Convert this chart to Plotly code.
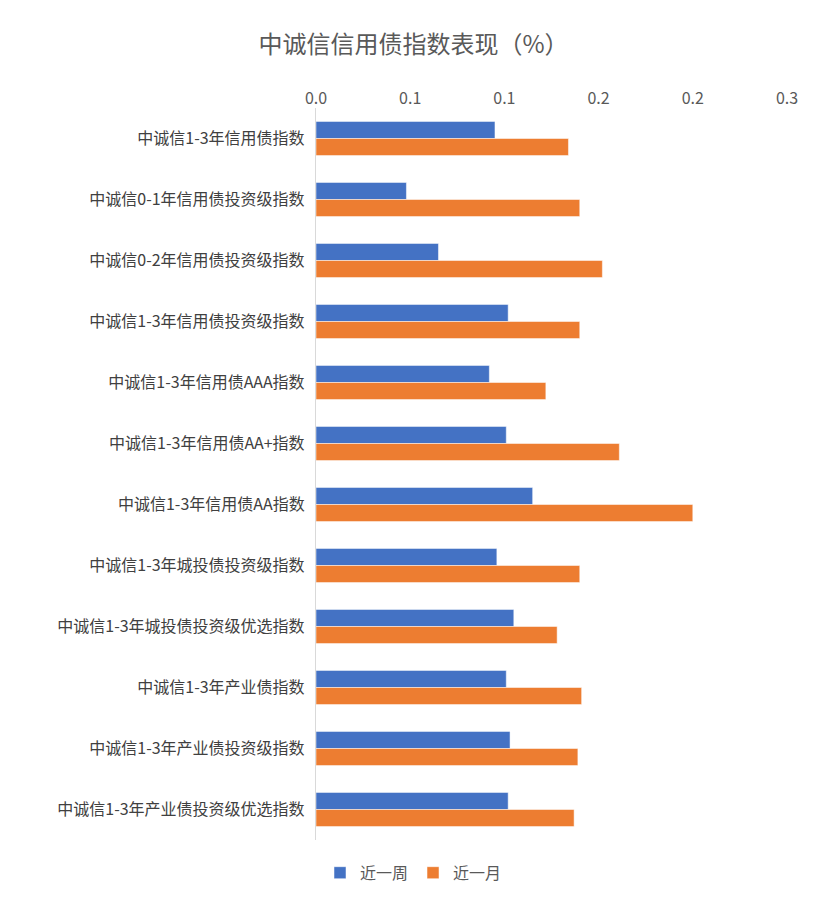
import plotly.graph_objects as go

# 数据
categories = [
    "中诚信1-3年信用债指数", "中诚信0-1年信用债投资级指数", "中诚信0-2年信用债投资级指数",
    "中诚信1-3年信用债投资级指数", "中诚信1-3年信用债AAA指数", "中诚信1-3年信用债AA+指数",
    "中诚信1-3年信用债AA指数", "中诚信1-3年城投债投资级指数", "中诚信1-3年城投债投资级优选指数",
    "中诚信1-3年产业债指数", "中诚信1-3年产业债投资级指数", "中诚信1-3年产业债投资级优选指数",
]
week_values = [0.095, 0.048, 0.065, 0.102, 0.092, 0.101, 0.115, 0.096, 0.105, 0.101, 0.103, 0.102]
month_values = [0.134, 0.140, 0.152, 0.140, 0.122, 0.161, 0.200, 0.140, 0.128, 0.141, 0.139, 0.137]
tick_vals = [0, 0.05, 0.10, 0.15, 0.20, 0.25]
tick_text = ["0.0", "0.1", "0.1", "0.2", "0.2", "0.3"]

font_family = "Noto Sans CJK SC"

fig = go.Figure()
fig.add_trace(go.Bar(y=categories, x=week_values, orientation='h', name='近一周',
                     marker_color='#4472C4'))
fig.add_trace(go.Bar(y=categories, x=month_values, orientation='h', name='近一月',
                     marker_color='#ED7D31'))

fig.update_layout(
    width=811, height=898,
    template='plotly_white',
    font=dict(family=font_family, size=16, color='#404040'),
    title=dict(text='中诚信信用债指数表现（%）', x=0.5, xanchor='center', y=0.959,
               yanchor='middle', font=dict(size=24, color='#595959')),
    barmode='group', bargap=0.44, bargroupgap=0,
    xaxis=dict(side='top', range=[0, 0.25], tickvals=tick_vals, ticktext=tick_text,
               showgrid=False, zeroline=False, showline=False, automargin=False,
               tickfont=dict(size=16, color='#595959')),
    yaxis=dict(autorange='reversed', showgrid=False, showline=True, linecolor='#D9D9D9',
               ticks='', ticksuffix='  ', automargin=False,
               tickfont=dict(size=16, color='#404040')),
    legend=dict(orientation='h', xref='container', x=0.5, xanchor='center',
                yref='container', y=0.037, yanchor='middle', font=dict(size=16, color='#595959')),
    margin=dict(l=308, r=32, t=100, b=66),
)

fig.write_html("out.html")
